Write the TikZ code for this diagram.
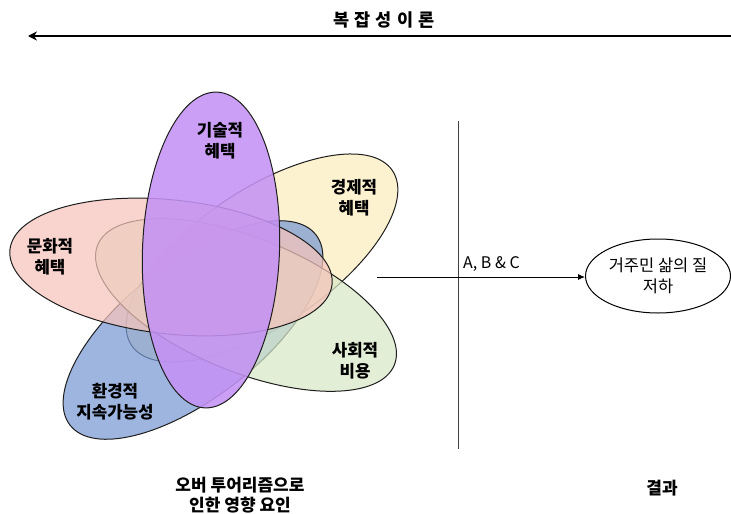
\documentclass[tikz,border=0pt]{standalone}
\usepackage{fontspec}
\setmainfont{Noto Sans CJK KR}
\usetikzlibrary{arrows.meta,shapes.geometric}
\definecolor{cPurple}{RGB}{196,146,244}
\definecolor{cPink}{RGB}{246,196,187}
\definecolor{cYellow}{RGB}{252,237,190}
\definecolor{cBlue}{RGB}{120,152,211}
\definecolor{cGreen}{RGB}{215,231,198}
\definecolor{cLine}{RGB}{30,30,30}
\begin{document}
\begin{tikzpicture}[x=1pt,y=-1pt,
  petal/.style={ellipse,draw=cLine,line width=1pt,fill opacity=0.72,inner sep=0pt,
    minimum width=316pt,minimum height=136pt},
  lbl/.style={font=\fontsize{16.8}{21}\selectfont\bfseries,align=center,inner sep=0pt},
  bottomlbl/.style={font=\fontsize{17}{19.5}\selectfont\bfseries,align=center,inner sep=0pt},
  plain/.style={font=\fontsize{16.5}{21.5}\selectfont,align=center,inner sep=0pt}
]
\useasboundingbox (0,0) rectangle (731,514);

% petals (bottom to top)
\node[petal,fill=cYellow,rotate=33.8,minimum width=314pt] (econ) at (262,258) {};
\node[petal,fill=cBlue,rotate=37.7,minimum width=311pt] (env) at (193,330) {};
\node[petal,fill=cGreen,rotate=-22,minimum width=320pt,minimum height=134pt] (soc) at (246,305) {};
\node[petal,fill=cPink,rotate=-6.2,minimum width=324pt,minimum height=134pt] (cult) at (171,267) {};
\node[petal,fill=cPurple,fill opacity=0.88,rotate=87.8,minimum width=316pt,minimum height=137pt] (tech) at (211,250) {};

% petal labels
\node[lbl] (techL) at (220,141) {기술적\\혜택};
\node[lbl] (econL) at (354,198) {경제적\\혜택};
\node[lbl] (cultL) at (50,257) {문화적\\혜택};
\node[lbl] (socL) at (355,361) {사회적\\비용};
\node[lbl] (envL) at (115,402) {환경적\\지속가능성};

% title and top arrow
\node[font=\fontsize{17.5}{20}\selectfont\bfseries,inner sep=0pt] (title) at (384,20)
  {복\hspace{5pt}잡\hspace{5pt}성\hspace{5pt}이\hspace{5pt}론};
\coordinate (topR) at (731,36);
\coordinate (topL) at (28,36);
\draw[line width=2.3pt,-{Stealth[length=9pt,width=9pt]}] (topR) -- (topL);

% divider
\coordinate (vTop) at (458,121);
\coordinate (vBot) at (458,449);
\draw[line width=1pt,black!75] (vTop) -- (vBot);

% result
\node[ellipse,draw=black,line width=1pt,inner sep=0pt,minimum width=145pt,minimum height=74pt,
  plain] (res) at (658,276) {거주민 삶의 질\\저하};
\coordinate (aStart) at (377,277);
\draw[line width=0.9pt,-{Latex[length=7pt,width=6pt]}] (aStart) -- (aStart -| res.west);
\node[plain,font=\fontsize{16}{20}\selectfont,anchor=base west] (abc) at (463,268) {A, B \& C};

% bottom labels
\node[bottomlbl] (cause) at (240,495) {오버 투어리즘으로\\인한 영향 요인};
\node[bottomlbl] (outc) at (662,488) {결과};
\end{tikzpicture}
\end{document}
